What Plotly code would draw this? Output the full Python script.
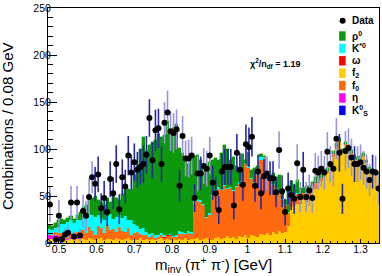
import plotly.graph_objects as go

# ---------------- data ----------------
x_lo = 0.472
bin_w = 0.008
n_bins = 110

data_vals = [41, None, 4, 29, 4, 9, 11, 43, 7, 43,
             8, 34, 29, 49, 70, 63, 73, 37, 48, 33,
             68, 53, 84, 36, 70, 60, 93, 75, 86, 78,
             81, 84, 94, 133, 88, 120, 122, 84, 128, 139,
             119, 117, 121, 61, 114, 90, 90, 93, 48, 74,
             74, 82, 79, 93, 64, 53, 35, 76, 81, 81,
             81, 40, 96, 78, 62, 105, 102, 113, 61, 76,
             53, 71, 74, 69, 69, 54, 99, 55, 33, 58,
             51, 47, 85, 49, 78, 49, 56, 48, 77, 75,
             79, 75, 97, 84, 79, 111, 96, 47, 98, 101,
             91, 84, 84, 86, 80, 76, 67, 76, 75, 58]

data_errs = [19, 0, 5, 17, 5, 7, 8, 18, 6, 18,
             7, 17, 16, 20, 17, 18, 19, 16, 18, 15,
             19, 17, 20, 16, 19, 18, 21, 19, 20, 19,
             19, 20, 20, 20, 19, 22, 21, 19, 22, 23,
             21, 21, 21, 17, 21, 19, 20, 20, 15, 19,
             18, 19, 19, 20, 18, 17, 15, 19, 19, 19,
             19, 15, 20, 18, 17, 21, 21, 21, 17, 18,
             17, 18, 18, 18, 18, 16, 20, 17, 14, 17,
             16, 16, 20, 16, 19, 16, 17, 16, 19, 18,
             19, 18, 21, 19, 19, 22, 20, 16, 21, 21,
             20, 19, 19, 19, 18, 18, 17, 18, 18, 16]

# 1 = dark error bar, 0 = light error bar
err_dark = [0, 0, 0, 0, 0, 0, 0, 0, 0, 0, 0, 0, 0, 0, 0,
            1, 1, 1, 1, 1, 1, 1, 1, 1, 1, 1, 1, 1, 1, 1, 1, 1, 1, 1, 1, 1, 1, 1,
            0, 0, 0, 0, 0, 1, 0, 0, 0, 0, 1, 0, 1, 0, 0, 0,
            1, 1, 1, 1, 1, 1, 1, 1, 1, 1, 1, 1, 1, 1, 1, 1, 1, 1,
            0, 1, 1, 1, 0, 1, 1, 1, 1, 1, 0, 0, 1,
            0, 0, 0, 0, 0, 0, 0, 0, 0, 0, 0,
            1, 1, 0, 0, 0, 1, 0, 0, 0, 0, 0, 1, 0, 0]

f2_vals = [3, 4, 3, 4, 3, 4, 3, 4, 3, 4, 5,
           4, 3, 5, 4, 3, 4, 5, 3, 4, 4, 3, 5, 4, 3, 4, 5, 3,
           4, 3, 5, 3, 4, 3, 4, 3, 4, 5, 3, 4, 3, 4, 3, 4, 3, 5, 3, 4,
           4, 5, 3, 4, 5, 4, 3, 5, 6, 4, 5, 7, 5, 6, 4, 7, 6, 8, 5, 9,
           7, 6, 10, 8, 11, 9, 12, 10, 13, 11, 12, 18,
           38, 40, 42, 42, 46, 44, 50, 56, 58, 64, 66, 70, 74, 80, 92,
           100, 108, 96, 104, 101, 95, 89, 88, 90, 93, 85, 78, 76, 74, 72]

ks_vals = [1, 0, 1, 0, 1] + [0]*105

eta_vals = [4, 3, 5, 3, 2, 4, 1, 1, 0, 1, 0] + [0]*99

f0_vals = [1, 1, 3, 4, 5, 3, 2, 6, 4, 7, 9,
           10, 8, 12, 9, 6, 14, 11, 8, 15, 10, 12, 7, 13, 10, 8, 11, 6,
           7, 9, 5, 6, 4, 3, 5, 2, 2, 3, 2, 3, 4, 2, 3, 6, 7, 5, 8, 6,
           38, 40, 41, 36, 22, 26, 47, 50, 52, 52, 56, 50, 54, 49, 56, 56,
           59, 76, 75, 59, 57, 66, 78, 82, 62, 59, 50, 48, 42, 35, 28, 14,
           15, 12, 10, 8, 7, 8, 6, 5, 6, 4, 3, 4, 3, 2, 3, 2, 1, 2, 1, 1,
           1, 1, 0, 1, 0, 1, 0, 0, 1, 0]

omega_vals = [0]*37 + [1, 1, 1, 1] + [0]*69

kstar_vals = [6, 6, 4, 6, 9, 9, 16, 13, 14, 12, 11,
              13, 18, 14, 17, 19, 12, 11, 14, 10, 17, 11, 16, 13, 14, 17, 9, 15,
              9, 6, 5, 7, 4, 4, 2, 4, 2, 2, 2, 1, 2, 1, 2, 3, 2, 1, 2, 2,
              3, 2, 2, 1, 1, 2, 1, 1, 2, 1, 1, 2, 1, 1, 1, 2, 1, 1, 2, 1,
              1, 1, 3, 1, 1, 1, 1, 1, 1, 1, 1, 1,
              1, 0, 1, 0, 0, 1] + [0]*24

rho_vals = [4, 4, 5, 7, 6, 4, 5, 5, 5, 6, 8,
            11, 11, 19, 18, 22, 16, 17, 15, 19, 13, 24, 20, 16, 25, 27, 33, 32,
            52, 64, 85, 97, 86, 94, 97, 101, 108, 102, 107, 121, 108, 115, 119,
            88, 84, 79, 71, 80,
            48, 47, 42, 43, 54, 54, 37, 34, 28, 39, 42, 41, 28, 36, 21, 15,
            29, 3, 15, 9, 15, 9, 4, 2, 2, 3, 11, 11, 16, 5, 5, 22,
            12, 10, 14, 9, 6, 8, 5, 4, 6, 4, 3, 4, 3, 4, 3, 4, 3, 2, 3, 2,
            3, 4, 3, 2, 3, 2, 3, 2, 3, 2]

x_ticks = [0.5, 0.6, 0.7, 0.8, 0.9, 1.0, 1.1, 1.2, 1.3]
x_ticktext = ["0.5", "0.6", "0.7", "0.8", "0.9", "1", "1.1", "1.2", "1.3"]
y_ticks = [0, 50, 100, 150, 200, 250]
y_ticktext = ["0", "50", "100", "150", "200", "250"]

# ---------------- styles ----------------
C_RHO = "#0c990c"
C_KST = "#00ffff"
C_OMEGA = "#ff0000"
C_F2 = "#ffcc00"
C_F0 = "#ff6a10"
C_ETA = "#ff00ff"
C_KS = "#0000ff"
C_ERR_DARK = "#2828a4"
C_ERR_LIGHT = "#9696d8"
FONT = "Liberation Sans, Arial, Helvetica, sans-serif"

centers = [round(x_lo + bin_w * (i + 0.5), 4) for i in range(n_bins)]

fig = go.Figure()

stack = [
    ("K_S", ks_vals, C_KS),
    ("f2", f2_vals, C_F2),
    ("eta", eta_vals, C_ETA),
    ("f0", f0_vals, C_F0),
    ("omega", omega_vals, C_OMEGA),
    ("kstar", kstar_vals, C_KST),
    ("rho", rho_vals, C_RHO),
]
for name, vals, col in stack:
    fig.add_trace(go.Bar(
        x=centers, y=vals, width=bin_w, name=name,
        marker=dict(color=col, line=dict(width=0.4, color=col)),
        showlegend=False, hoverinfo="skip"))

for flag, col in [(0, C_ERR_LIGHT), (1, C_ERR_DARK)]:
    xs = [c for c, d, f in zip(centers, data_vals, err_dark) if f == flag and d is not None]
    ys = [d for d, f in zip(data_vals, err_dark) if f == flag and d is not None]
    es = [e for d, e, f in zip(data_vals, data_errs, err_dark) if f == flag and d is not None]
    fig.add_trace(go.Scatter(
        x=xs, y=ys, mode="markers",
        marker=dict(color="black", size=6),
        error_y=dict(type="data", array=es, visible=True, color=col,
                     thickness=1.6, width=0),
        showlegend=False, hoverinfo="skip"))

# ---------------- layout geometry ----------------
W, H = 382, 276
ML, MR, MT, MB = 48, 2, 4, 33
PW, PH = W - ML - MR, H - MT - MB


def xp(px):
    return (px - ML) / PW


def yp(py):
    return (H - MB - py) / PH


annotations = []
shapes = []

# axis titles
annotations.append(dict(
    text="m<sub>inv</sub> (π<sup>+</sup> π<sup>-</sup>) [GeV]",
    xref="paper", yref="paper", x=xp(214), y=yp(265),
    xanchor="center", yanchor="middle", showarrow=False,
    font=dict(family=FONT, size=15, color="black")))
annotations.append(dict(
    text="Combinations / 0.08 GeV",
    xref="paper", yref="paper", x=xp(8), y=yp(124), textangle=-90,
    xanchor="center", yanchor="middle", showarrow=False,
    font=dict(family=FONT, size=15, color="black")))

# chi2 label
annotations.append(dict(
    text="<b>χ<sup>2</sup>/n<sub>df</sub> = 1.19</b>",
    xref="paper", yref="paper", x=xp(276), y=yp(60),
    xanchor="center", yanchor="middle", showarrow=False,
    font=dict(family=FONT, size=9, color="black")))

# manual legend
leg_items = [
    ("<b>ρ<sup>0</sup></b>", C_RHO),
    ("<b>K<sup>*0</sup></b>", C_KST),
    ("<b>ω</b>", C_OMEGA),
    ("<b>f<sub>2</sub></b>", C_F2),
    ("<b>f<sub>0</sub></b>", C_F0),
    ("<b>η</b>", C_ETA),
    ("<b>K<sup>0</sup><sub>S</sub></b>", C_KS),
]
box_x0, box_x1, text_x = 340, 346.5, 351
row0, row_step = 32.5, 12.6
# data entry
shapes.append(dict(type="circle", xref="paper", yref="paper",
                   x0=xp(340.5), x1=xp(346.5), y0=yp(20), y1=yp(14),
                   fillcolor="black", line=dict(width=0)))
annotations.append(dict(text="<b>Data</b>", xref="paper", yref="paper",
                        x=xp(text_x), y=yp(17), xanchor="left", yanchor="middle",
                        showarrow=False, font=dict(family=FONT, size=10, color="black")))
for k, (lab, col) in enumerate(leg_items):
    cy = row0 + k * row_step
    shapes.append(dict(type="rect", xref="paper", yref="paper",
                       x0=xp(box_x0), x1=xp(box_x1), y0=yp(cy + 4.8), y1=yp(cy - 4.8),
                       fillcolor=col, line=dict(width=0)))
    annotations.append(dict(text=lab, xref="paper", yref="paper",
                            x=xp(text_x), y=yp(cy), xanchor="left", yanchor="middle",
                            showarrow=False, font=dict(family=FONT, size=10, color="black")))

fig.update_layout(
    width=W, height=H, autosize=False,
    margin=dict(l=ML, r=MR, t=MT, b=MB, pad=0),
    paper_bgcolor="white", plot_bgcolor="white",
    barmode="stack", bargap=0, bargroupgap=0,
    showlegend=False,
    annotations=annotations, shapes=shapes,
    font=dict(family=FONT, color="black"),
    xaxis=dict(range=[0.471, 1.349], tickmode="array", tickvals=x_ticks, ticktext=x_ticktext,
               ticks="inside", ticklen=4, tickwidth=1, tickcolor="black",
               ticklabelstandoff=-4, ticklabeloverflow="allow",
               minor=dict(ticks="inside", ticklen=2, dtick=0.02, tickcolor="black", showgrid=False),
               showline=True, linecolor="black", linewidth=1, mirror=True,
               showgrid=False, zeroline=False, layer="above traces",
               tickfont=dict(family=FONT, size=10.5, color="black")),
    yaxis=dict(range=[0, 250.1], tickmode="array", tickvals=y_ticks, ticktext=y_ticktext,
               ticks="inside", ticklen=9, tickwidth=1, tickcolor="black",
               ticklabelstandoff=-6, ticklabeloverflow="allow",
               minor=dict(ticks="inside", ticklen=5, dtick=10, tickcolor="black", showgrid=False),
               showline=True, linecolor="black", linewidth=1, mirror=True,
               showgrid=False, zeroline=False, layer="above traces",
               tickfont=dict(family=FONT, size=10.5, color="black")),
)

fig.write_html("out.html", config={"displayModeBar": False},
               post_script="document.body.style.margin='0';document.body.style.overflow='hidden';")
